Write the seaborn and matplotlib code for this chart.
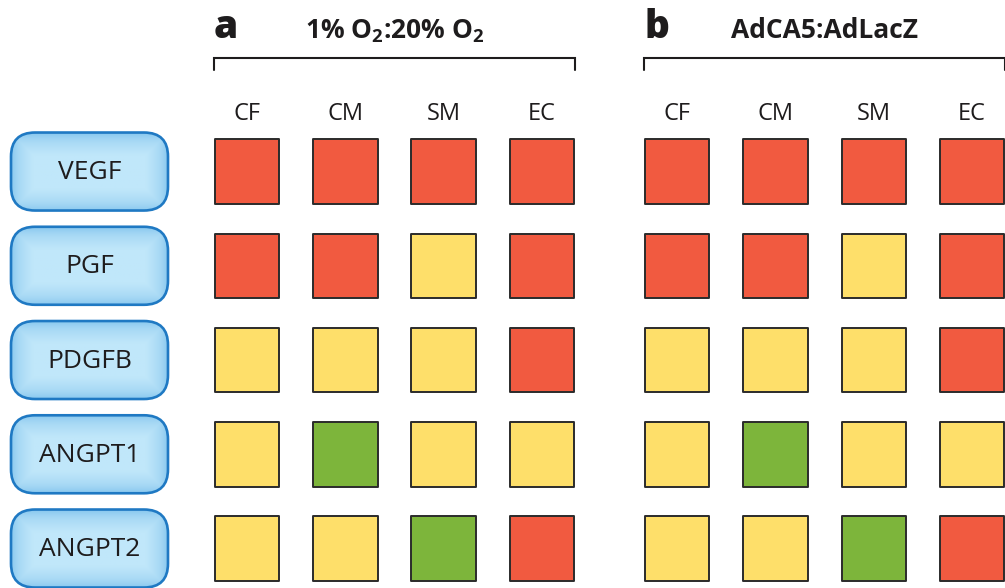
import numpy as np
import pandas as pd
import matplotlib
matplotlib.use('Agg')
import matplotlib.pyplot as plt
from matplotlib.patches import FancyBboxPatch
from matplotlib.colors import LinearSegmentedColormap
import seaborn as sns

genes = ['VEGF', 'PGF', 'PDGFB', 'ANGPT1', 'ANGPT2']
cells = ['CF', 'CM', 'SM', 'EC']
# 1 = induced, 0 = unchanged, -1 = repressed
hypoxia = [[1, 1, 1, 1],
           [1, 1, 0, 1],
           [0, 0, 0, 1],
           [0, -1, 0, 0],
           [0, 0, -1, 1]]
adca5 = [[1, 1, 1, 1],
         [1, 1, 0, 1],
         [0, 0, 0, 1],
         [0, -1, 0, 0],
         [0, 0, -1, 1]]
letters = ['a', 'b']
titles = ['1% O$_\\mathbf{2}$:20% O$_\\mathbf{2}$', 'AdCA5:AdLacZ']
palette = {1: '#f15a40', 0: '#fedf6a', -1: '#7db53b'}

sns.set_style('white')
plt.rcParams['font.family'] = ['Open Sans', 'DejaVu Sans']
plt.rcParams['mathtext.fontset'] = 'custom'
plt.rcParams['mathtext.rm'] = 'Open Sans'
plt.rcParams['mathtext.bf'] = 'Open Sans:bold'
plt.rcParams['mathtext.it'] = 'Open Sans:italic'
ink = '#1e1c1d'


def long_form(vals):
    rows = [(g, c, vals[i][j]) for i, g in enumerate(genes) for j, c in enumerate(cells)]
    return pd.DataFrame(rows, columns=['gene', 'cell', 'change'])


W, H = 1005, 588
fig = plt.figure(figsize=(W / 100, H / 100), dpi=100)
bg = fig.add_axes([0, 0, 1, 1])
bg.set_xlim(0, W)
bg.set_ylim(H, 0)
bg.axis('off')

# panel axes placed so one unit = one column / row
pw, ph = 393.3, 471.25
lefts = [197.8, 628.0]
top = 124.4
axes = []
for k, (vals, left) in enumerate(zip([hypoxia, adca5], lefts)):
    ax = fig.add_axes([left / W, (H - top - ph) / H, pw / W, ph / H])
    ax.patch.set_visible(False)
    sns.scatterplot(data=long_form(vals), x='cell', y='gene', hue='change',
                    palette=palette, marker='s', s=2160, edgecolor='#2b2b2b',
                    linewidth=1.4, legend=False, ax=ax)
    ax.set_xlim(-0.5, 3.5)
    ax.set_ylim(4.5, -0.5)
    ax.xaxis.tick_top()
    ax.set_xticks(range(len(cells)))
    ax.set_xticklabels(cells)
    ax.tick_params(axis='x', length=0, pad=-1, labelsize=17, labelcolor=ink)
    ax.set_yticks([])
    ax.set_xlabel('')
    ax.set_ylabel('')
    for s in ax.spines.values():
        s.set_visible(False)
    axes.append(ax)


def to_px(ax, x, y):
    return bg.transData.inverted().transform(ax.transData.transform((x, y)))


# brackets, letters and titles
half = 33 / 98.3
for ax, letter, title in zip(axes, letters, titles):
    xl = to_px(ax, -half, 0)[0]
    xr = to_px(ax, 3 + half, 0)[0]
    bg.plot([xl, xl, xr, xr], [69.5, 57.5, 57.5, 69.5], color=ink, lw=1.5,
            solid_joinstyle='miter')
    bg.text(xl, 38, letter, ha='left', va='baseline', fontsize=28,
            fontweight='heavy', color=ink)
    bg.text((xl + xr) / 2, 38.5, title, ha='center', va='baseline', fontsize=19,
            fontweight='bold', color=ink)

# row label buttons
cmap = LinearSegmentedColormap.from_list('btn', ['#86c6ee', '#a8d9f5', '#c0e7fa'])
bx0, bx1, bh = 11, 168, 78
for i, g in enumerate(genes):
    yc = to_px(axes[0], 0, i)[1]
    y0 = yc - bh / 2
    box = FancyBboxPatch((bx0, y0), bx1 - bx0, bh,
                         boxstyle='round,pad=0,rounding_size=24',
                         facecolor='none', edgecolor='#1f79c3', lw=1.9, zorder=3)
    bg.add_patch(box)
    xx, yy = np.meshgrid(np.linspace(bx0, bx1, 160), np.linspace(y0, y0 + bh, 80))
    d = np.minimum.reduce([xx - bx0, bx1 - xx, yy - y0, y0 + bh - yy])
    t = np.clip(d / 22, 0, 1) ** 0.7
    im = bg.imshow(t, extent=(bx0, bx1, y0 + bh, y0), cmap=cmap, vmin=0, vmax=1,
                   aspect='auto', zorder=2, interpolation='bilinear')
    im.set_clip_path(box)
    bg.text((bx0 + bx1) / 2, yc + 1, g, ha='center', va='center', fontsize=19,
            color=ink, zorder=4)
bg.set_xlim(0, W)
bg.set_ylim(H, 0)

fig.savefig('out.png', dpi=100)
